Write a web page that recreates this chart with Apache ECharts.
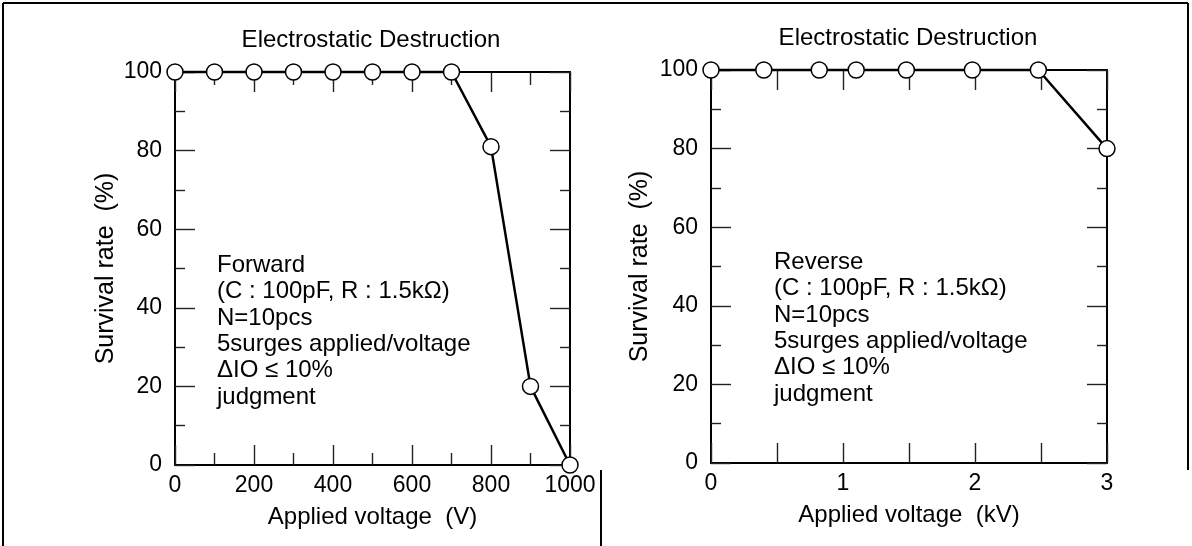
<!DOCTYPE html>
<html>
<head>
<meta charset="utf-8">
<script src="https://cdn.jsdelivr.net/npm/echarts@6/dist/echarts.min.js"></script>
<style>
html,body{margin:0;padding:0;background:#fff;}
#c{width:1192px;height:546px;}
</style>
</head>
<body>
<div id="c"></div>
<script>
// ---- data ----
var titleText = 'Electrostatic Destruction';
var fwdVoltage = [0, 100, 200, 300, 400, 500, 600, 700, 800, 900, 1000];
var fwdSurvival = [100, 100, 100, 100, 100, 100, 100, 100, 81, 20, 0];
var revVoltage = [0, 0.4, 0.82, 1.1, 1.48, 1.98, 2.48, 3.0];
var revSurvival = [100, 100, 100, 100, 100, 100, 100, 80];
var fwdXName = 'Applied voltage  (V)';
var revXName = 'Applied voltage  (kV)';
var yName = 'Survival rate  (%)';
var fwdNote = ['Forward', '(C : 100pF, R : 1.5k\u03A9)', 'N=10pcs', '5surges applied/voltage', '\u0394IO \u2264 10%', 'judgment'];
var revNote = ['Reverse', '(C : 100pF, R : 1.5k\u03A9)', 'N=10pcs', '5surges applied/voltage', '\u0394IO \u2264 10%', 'judgment'];

var FONT = '"Liberation Sans", Arial, Helvetica, sans-serif';

function pairs(xs, ys) { return xs.map(function (x, i) { return [x, ys[i]]; }); }

var axisLine = { show: true, onZero: false, lineStyle: { color: '#000', width: 2 } };
var tickStyle = { color: '#222', width: 1.4 };

function xAx(grid, pos, min, max, interval, showLabel, minorSplit, minorLen, formatter, name) {
  var a = {
    type: 'value', gridIndex: grid, position: pos, min: min, max: max, interval: interval,
    axisLine: axisLine,
    axisTick: { show: true, inside: true, length: 20, lineStyle: tickStyle },
    minorTick: { show: minorSplit > 1, splitNumber: minorSplit, length: minorLen, lineStyle: tickStyle },
    splitLine: { show: false }, minorSplitLine: { show: false },
    axisLabel: { show: showLabel, margin: 9, fontSize: 23, color: '#000', fontFamily: FONT, formatter: formatter }
  };
  if (name) {
    a.name = name; a.nameLocation = 'middle'; a.nameGap = 40;
    a.nameTextStyle = { fontSize: 24, color: '#000', fontFamily: FONT };
  }
  return a;
}
function yAx(grid, pos, showLabel, name, gap) {
  var a = {
    type: 'value', gridIndex: grid, position: pos, min: 0, max: 100, interval: 20,
    axisLine: axisLine,
    axisTick: { show: true, inside: true, length: 20, lineStyle: tickStyle },
    minorTick: { show: true, splitNumber: 2, length: 10, lineStyle: tickStyle },
    splitLine: { show: false }, minorSplitLine: { show: false },
    axisLabel: { show: showLabel, margin: 13, fontSize: 23, color: '#000', fontFamily: FONT }
  };
  if (name) {
    a.name = name; a.nameLocation = 'middle'; a.nameGap = gap;
    a.nameTextStyle = { fontSize: 25, color: '#000', fontFamily: FONT };
  }
  return a;
}
var vFmt = function (v) { return String(v); };
var kvFmt = function (v) { return Math.abs(v - Math.round(v)) < 1e-6 ? String(Math.round(v)) : ''; };

function noteText(lines) { return lines.join('\n'); }

var lineSeries = function (xi, yi, data) {
  return {
    type: 'line', xAxisIndex: xi, yAxisIndex: yi, data: data, clip: false,
    symbol: 'circle', symbolSize: 16, showAllSymbol: true,
    lineStyle: { color: '#000', width: 2.5 },
    itemStyle: { color: '#fff', borderColor: '#000', borderWidth: 1.5 },
    z: 5, animation: false
  };
};

var option = {
  backgroundColor: '#fff',
  animation: false,
  title: [
    { text: titleText, left: 366, top: 23, textAlign: 'center',
      textStyle: { fontSize: 24, fontWeight: 'normal', color: '#000', fontFamily: FONT } },
    { text: titleText, left: 903, top: 21, textAlign: 'center',
      textStyle: { fontSize: 24, fontWeight: 'normal', color: '#000', fontFamily: FONT } }
  ],
  grid: [
    { left: 175, right: 622, top: 72, bottom: 81 },
    { left: 711, right: 85, top: 70, bottom: 83 }
  ],
  xAxis: [
    xAx(0, 'bottom', 0, 1000, 200, true, 2, 12, vFmt, fwdXName),
    xAx(0, 'top', 0, 1000, 200, false, 2, 13, null, null),
    xAx(1, 'bottom', 0, 3, 0.5, true, 1, 0, kvFmt, revXName),
    xAx(1, 'top', 0, 3, 0.5, false, 1, 0, null, null)
  ],
  yAxis: [
    yAx(0, 'left', true, yName, 56),
    yAx(0, 'right', false, null, 0),
    yAx(1, 'left', true, yName, 58),
    yAx(1, 'right', false, null, 0)
  ],
  series: [
    lineSeries(0, 0, pairs(fwdVoltage, fwdSurvival)),
    lineSeries(2, 2, pairs(revVoltage, revSurvival))
  ],
  graphic: [
    { type: 'text', left: 217, top: 252, z: 10,
      style: { text: noteText(fwdNote), font: '24px ' + FONT, fill: '#000', lineHeight: 26.4 } },
    { type: 'text', left: 774, top: 249, z: 10,
      style: { text: noteText(revNote), font: '24px ' + FONT, fill: '#000', lineHeight: 26.4 } },
    { type: 'line', shape: { x1: 3, y1: 3, x2: 1188, y2: 3 }, style: { stroke: '#000', lineWidth: 2 } },
    { type: 'line', shape: { x1: 3, y1: 3, x2: 3, y2: 546 }, style: { stroke: '#000', lineWidth: 2 } },
    { type: 'line', shape: { x1: 1188, y1: 3, x2: 1188, y2: 470 }, style: { stroke: '#000', lineWidth: 2 } },
    { type: 'line', shape: { x1: 601, y1: 470, x2: 601, y2: 546 }, style: { stroke: '#000', lineWidth: 2 } }
  ]
};

var chart = echarts.init(document.getElementById('c'), null, { renderer: 'canvas' });
chart.setOption(option);
</script>
</body>
</html>
